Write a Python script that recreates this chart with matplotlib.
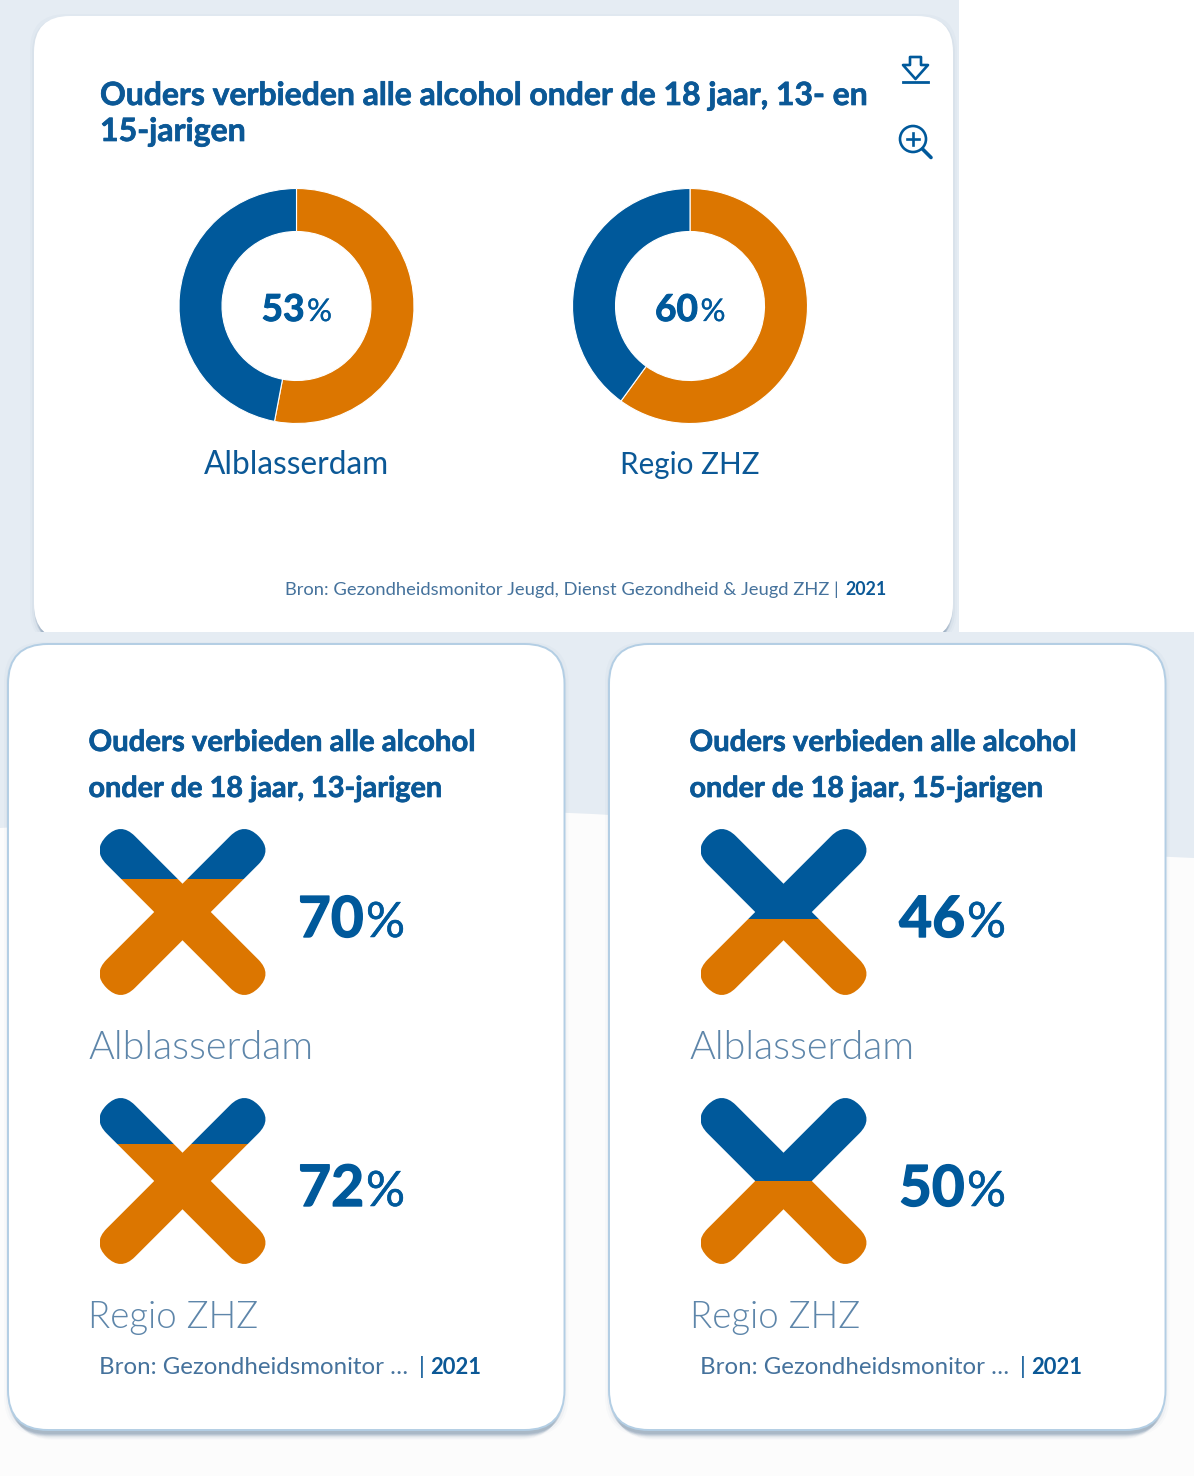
import matplotlib
matplotlib.use("Agg")
import matplotlib.pyplot as plt
import matplotlib.patheffects as pe
from matplotlib.patches import FancyBboxPatch, Rectangle, PathPatch, Polygon, Circle
from matplotlib.path import Path
from matplotlib.transforms import Affine2D

# ---------- data ----------
top_title = ["Ouders verbieden alle alcohol onder de 18 jaar, 13- en", "15-jarigen"]
regions = ["Alblasserdam", "Regio ZHZ"]
donut_values = [53, 60]
x_values_13 = [70, 72]
x_values_15 = [46, 50]
title_13 = ["Ouders verbieden alle alcohol", "onder de 18 jaar, 13-jarigen"]
title_15 = ["Ouders verbieden alle alcohol", "onder de 18 jaar, 15-jarigen"]
source_long = "Bron: Gezondheidsmonitor Jeugd, Dienst Gezondheid & Jeugd ZHZ |"
source_short = "Bron: Gezondheidsmonitor \u2026"
year = "2021"

BLUE = "#00599B"
TEXT = "#0B5896"
SOFT = "#45729C"
ORANGE = "#DC7600"
BG = "#E5ECF3"
FONT = ["Lato", "DejaVu Sans"]
W, H = 1194, 1476

fig = plt.figure(figsize=(W / 100, H / 100), dpi=100, facecolor="white")
ax = fig.add_axes([0, 0, 1, 1])
ax.set_xlim(0, W)
ax.set_ylim(H, 0)
ax.axis("off")
renderer = fig.canvas.get_renderer()


def put(x, y, s, width=None, size=20, weight="normal", color=TEXT, ha="left", z=10, stroke=0):
    t = ax.text(x, y, s, fontsize=size, fontweight=weight, color=color, ha=ha,
                va="baseline", family=FONT, zorder=z)
    if width:
        t.set_fontsize(size * width / t.get_window_extent(renderer).width)
    if stroke:
        t.set_path_effects([pe.withStroke(linewidth=stroke, foreground=color)])
    return t


def card(x0, y0, x1, y1, r, edge=None, z=2):
    layers = [(4, 2, .025), (2, 3, .04), (0, 4, .10), (-1, 6, .09), (-2, 8, .08),
              (-3, 10, .06), (-4, 12, .04), (-5, 14, .03), (-6, 16, .02)]
    for grow, dy, a in layers:
        ax.add_patch(FancyBboxPatch((x0 - grow, y0 - grow + dy), x1 - x0 + 2 * grow,
                                    y1 - y0 + 2 * grow,
                                    boxstyle=f"round,pad=0,rounding_size={r}",
                                    fc="#33587E", ec="none", alpha=a, zorder=z))
    ax.add_patch(FancyBboxPatch((x0, y0), x1 - x0, y1 - y0,
                                boxstyle=f"round,pad=0,rounding_size={r}",
                                fc="white", ec=edge or "none", lw=1.4, zorder=z + .1))


# ---------- backgrounds ----------
ax.add_patch(Rectangle((0, 0), 959, 632, fc=BG, ec="none", zorder=0))
card(34, 16, 953, 640, 36, z=1)
ax.add_patch(Rectangle((959, 0), W - 959, 632, fc="white", ec="none", zorder=1.4))
ax.add_patch(Rectangle((0, 632), W, H - 632, fc="#FCFCFC", ec="none", zorder=1.5))
wave = Path([(0, 632), (W, 632), (W, 858), (1000, 850), (800, 825), (610, 815),
             (450, 805), (200, 815), (0, 828), (0, 632)],
            [Path.MOVETO, Path.LINETO, Path.LINETO, Path.CURVE4, Path.CURVE4, Path.CURVE4,
             Path.CURVE4, Path.CURVE4, Path.CURVE4, Path.CLOSEPOLY])
ax.add_patch(PathPatch(wave, fc=BG, ec="none", zorder=1.6))
card(8, 644, 564.5, 1430, 40, edge="#B3CEE4", z=2)
card(609, 644, 1165.5, 1430, 40, edge="#B3CEE4", z=2)

# ---------- top card ----------
put(100, 105, top_title[0], width=768, weight="bold", stroke=0.5)
put(100, 141, top_title[1], width=146, weight="bold", stroke=0.5)

for cx, val, name, lw in zip([296.5, 690], donut_values, regions, [185, 139]):
    R = 117.5
    d = fig.add_axes([(cx - R) / W, 1 - (306 + R) / H, 2 * R / W, 2 * R / H], zorder=5)
    d.pie([val, 100 - val], colors=[ORANGE, BLUE], startangle=90, counterclock=False,
          radius=1, wedgeprops=dict(width=43 / 117.5, edgecolor="white", linewidth=0.8))
    d.set_xlim(-1, 1)
    d.set_ylim(-1, 1)
    d.patch.set_alpha(0)
    put(cx - 35, 321, str(val), width=43, weight="bold", color=BLUE, stroke=0.7)
    put(cx + 10.5, 321, "%", width=25, color=BLUE, stroke=0.2)
    put(cx, 474, name, width=lw, color=TEXT, ha="center")

put(285, 595, source_long, width=556, color=SOFT)
put(845, 595, year, width=41, weight="bold", color=TEXT)

# icons
icon = dict(fill=False, ec=BLUE, lw=1.9, zorder=10)
ax.add_patch(Polygon([(910, 57), (921, 57), (921, 65), (928, 65), (915.5, 79), (903, 65), (910, 65)],
                     closed=True, joinstyle="round", **icon))
ax.plot([903, 928], [82, 82], color=BLUE, lw=2, zorder=10)
ax.add_patch(Circle((913, 139), 13, **icon))
ax.plot([922.5, 931], [149, 157.5], color=BLUE, lw=2.6, solid_capstyle="round", zorder=10)
ax.plot([907, 919], [139, 139], color=BLUE, lw=1.9, zorder=10)
ax.plot([913, 913], [133, 145], color=BLUE, lw=1.9, zorder=10)


# ---------- X marks ----------
def x_mark(left, top, val):
    size = 166
    a = fig.add_axes([left / W, 1 - (top + size) / H, size / W, size / H], zorder=5)
    a.set_xlim(0, 100)
    a.set_ylim(0, 100)
    a.set_aspect("equal")
    a.axis("off")
    k = 100 / size
    L, w, r = 107.4 * k, 40 * k, 20 * k
    for lo, hi, col in [(0, val, ORANGE), (val, 100, BLUE)]:
        band = Rectangle((0, lo), 100, hi - lo, transform=a.transData)
        for ang in (45, -45):
            p = FancyBboxPatch((-L, -w / 2), 2 * L, w,
                               boxstyle=f"round,pad=0,rounding_size={r}",
                               fc=col, ec="none",
                               transform=Affine2D().rotate_deg(ang).translate(50, 50) + a.transData)
            a.add_patch(p)
            p.set_clip_path(band)


def lower_card(dx, title, values):
    put(88.5 + dx, 751, title[0], width=387, weight="bold", stroke=0.5)
    put(88.5 + dx, 797, title[1], width=354, weight="bold", stroke=0.5)
    for dy, val, name, lw in zip([0, 269], values, regions, [225, 170]):
        x_mark(99.5 + dx, 829 + dy, val)
        put(298 + dx, 937 + dy, str(val), width=66, weight="bold", color=BLUE, stroke=1.0)
        put(366 + dx, 937 + dy, "%", width=39, color=BLUE, stroke=0.4)
        put(88.5 + dx, 1059 + dy, name, width=lw, weight=300, color="#5E86AA")
    put(99 + dx, 1374, source_short, width=309, color=SOFT)
    put(419 + dx, 1374, "|", size=17, color=TEXT)
    put(430 + dx, 1374, year, width=51, weight="bold", color=TEXT)


lower_card(0, title_13, x_values_13)
lower_card(601, title_15, x_values_15)

fig.savefig("out.png", dpi=100)
